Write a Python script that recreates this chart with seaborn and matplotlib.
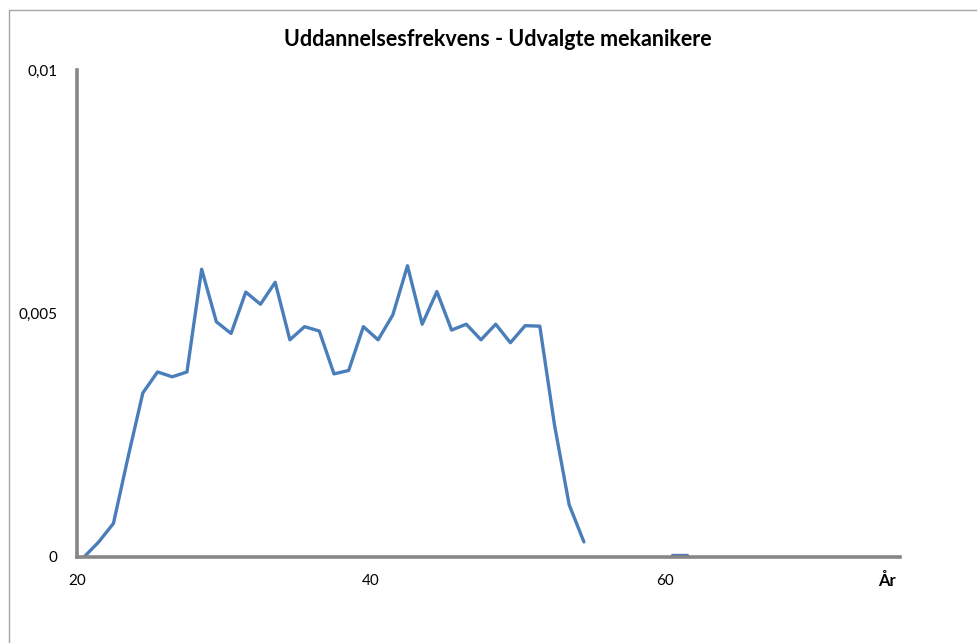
import numpy as np
import pandas as pd
import matplotlib
matplotlib.use("Agg")
import matplotlib.pyplot as plt
import seaborn as sns
from matplotlib.lines import Line2D

# Data (age midpoints, frequency); segment marks the break in the line
ages = [20.5, 21.5, 22.5, 23.5, 24.5, 25.5, 26.5, 27.5, 28.5, 29.5,
        30.5, 31.5, 32.5, 33.5, 34.5, 35.5, 36.5, 37.5, 38.5, 39.5,
        40.5, 41.5, 42.5, 43.5, 44.5, 45.5, 46.5, 47.5, 48.5, 49.5,
        50.5, 51.5, 52.5, 53.5, 54.5, 60.5, 61.5]
freq = [0.0, 0.00031, 0.00069, 0.00206, 0.00337, 0.0038, 0.0037, 0.0038, 0.00591, 0.00483,
        0.00459, 0.00544, 0.00519, 0.00564, 0.00446, 0.00473, 0.00464, 0.00376, 0.00383, 0.00473,
        0.00446, 0.00497, 0.00598, 0.00478, 0.00545, 0.00466, 0.00478, 0.00446, 0.00478, 0.0044,
        0.00475, 0.00474, 0.00271, 0.00107, 0.00031, 0.00005, 0.00005]
segment = [0] * 35 + [1] * 2
x_ticks = [20, 40, 60]
x_tick_labels = ["20", "40", "60"]
y_ticks = [0, 0.005, 0.01]
y_tick_labels = ["0", "0,005", "0,01"]
title = "Uddannelsesfrekvens - Udvalgte mekanikere"
x_title = "År"

df = pd.DataFrame({"age": ages, "freq": freq, "seg": segment})

sns.set_theme(style="white")
plt.rcParams["font.family"] = ["Lato", "DejaVu Sans"]

W, H = 977, 643
fig = plt.figure(figsize=(W / 100, H / 100), dpi=100)
ax = fig.add_axes([76.7 / W, (H - 557) / H, (900 - 76.7) / W, (557 - 70) / H])

sns.lineplot(data=df, x="age", y="freq", units="seg", ax=ax, color="#4A7EBB",
             linewidth=2.4, estimator=None, sort=False)

ax.set_xlim(20, 76)
ax.set_ylim(0, 0.01)
ax.set_xticks(x_ticks)
ax.set_xticklabels(x_tick_labels)
ax.set_yticks(y_ticks)
ax.set_yticklabels(y_tick_labels)
ax.set_xlabel("")
ax.set_ylabel("")

for side in ["top", "right"]:
    ax.spines[side].set_visible(False)
for side in ["left", "bottom"]:
    ax.spines[side].set_color("#868686")
    ax.spines[side].set_linewidth(2.6)
ax.tick_params(axis="both", which="major", direction="out", length=4, width=2,
               color="#868686", labelsize=11, labelcolor="black")
ax.tick_params(axis="x", pad=8)
ax.tick_params(axis="y", pad=10)

fig.text(498 / W, 1 - 40 / H, title, ha="center", va="center",
         fontsize=15.5, fontweight="bold", color="black")
fig.text(887 / W, 1 - 581 / H, x_title, ha="center", va="center",
         fontsize=12, fontweight="bold", color="black")

# outer chart border (left and top visible)
fig.add_artist(Line2D([8.5 / W, 8.5 / W], [0, 1 - 10 / H], transform=fig.transFigure,
                      color="#A6A6A6", linewidth=1))
fig.add_artist(Line2D([8.5 / W, 1], [1 - 10 / H, 1 - 10 / H], transform=fig.transFigure,
                      color="#A6A6A6", linewidth=1))

fig.savefig("out.png", dpi=100)
